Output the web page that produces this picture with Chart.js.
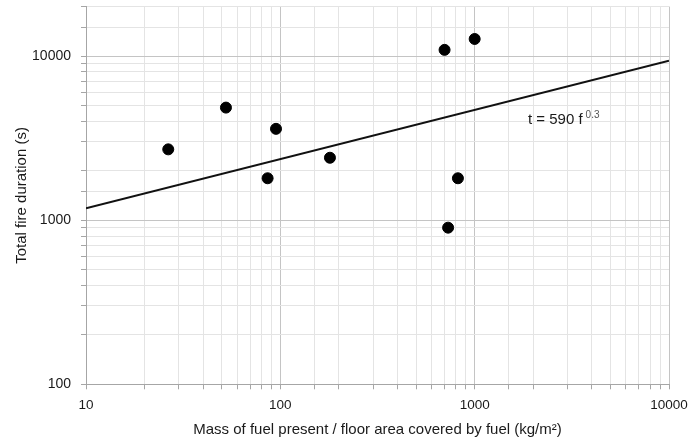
<!DOCTYPE html>
<html>
<head>
<meta charset="utf-8">
<script src="https://cdn.jsdelivr.net/npm/chart.js@4/dist/chart.umd.min.js"></script>
<style>
html,body{margin:0;padding:0;background:#fff;}
#wrap{width:688px;height:443px;}
</style>
</head>
<body>
<div id="wrap"><canvas id="c" width="688" height="443"></canvas></div>
<script>
// Data
const fuelLoad = [26.5, 52.5, 95, 86, 180, 700, 1000, 820, 730];          // kg/m2
const fireDuration = [2700, 4850, 3600, 1800, 2400, 10900, 12700, 1800, 900]; // s
const trendX = [10, 10000];
const trendY = [1180, 9350];
const xMajorTicks = [10, 100, 1000, 10000];
const yMajorTicks = [100, 1000, 10000];
const equationLabel = {x: 1880, y: 4080, main: 't = 590 f', sup: '0.3'};

const FONT = "'Liberation Sans', Arial, sans-serif";

const scatterPts = fuelLoad.map((v, i) => ({x: v, y: fireDuration[i]}));
const trendPts = trendX.map((v, i) => ({x: v, y: trendY[i]}));

const isDecade = v => {
  const l = Math.log10(v);
  return Math.abs(l - Math.round(l)) < 1e-9;
};

const labelPlugin = {
  id: 'eqLabel',
  afterDatasetsDraw(chart) {
    const ctx = chart.ctx;
    const px = chart.scales.x.getPixelForValue(equationLabel.x);
    const py = chart.scales.y.getPixelForValue(equationLabel.y);
    ctx.save();
    ctx.fillStyle = '#1a1a1a';
    ctx.textBaseline = 'middle';
    ctx.textAlign = 'left';
    ctx.font = '15px ' + FONT;
    ctx.fillText(equationLabel.main, px, py);
    const w = ctx.measureText(equationLabel.main).width;
    ctx.fillStyle = '#555';
    ctx.font = '10px ' + FONT;
    ctx.fillText(equationLabel.sup, px + w + 3, py - 5);
    ctx.restore();
  }
};

new Chart(document.getElementById('c'), {
  type: 'scatter',
  data: {
    datasets: [
      {
        type: 'line',
        data: trendPts,
        borderColor: '#111',
        borderWidth: 2,
        pointRadius: 0,
        fill: false,
        order: 2
      },
      {
        data: scatterPts,
        backgroundColor: '#000',
        borderColor: '#000',
        pointRadius: 5.5,
        pointHoverRadius: 5.5,
        order: 1
      }
    ]
  },
  options: {
    responsive: false,
    animation: false,
    devicePixelRatio: 1,
    layout: {padding: {left: 0, right: 19, top: 6.6, bottom: 0}},
    plugins: {legend: {display: false}, tooltip: {enabled: false}},
    scales: {
      x: {
        type: 'logarithmic',
        min: 10,
        max: 10000,
        afterFit(s) { s.height = 58.7; s.paddingLeft = 0; s.paddingRight = 0; },
        border: {color: '#a6a6a6', width: 1},
        grid: {
          color: c => (c.tick && isDecade(c.tick.value)) ? '#c4c4c4' : '#e4e4e4',
          tickColor: '#a6a6a6',
          tickLength: 5,
          lineWidth: 1
        },
        ticks: {
          autoSkip: false,
          maxRotation: 0,
          padding: 8,
          color: '#1a1a1a',
          font: {family: FONT, size: 13.5},
          callback: v => xMajorTicks.includes(v) ? String(v) : ''
        },
        title: {
          display: true,
          text: 'Mass of fuel present / floor area covered by fuel (kg/m²)',
          color: '#1a1a1a',
          font: {family: FONT, size: 15},
          padding: {top: 0, bottom: 4}
        }
      },
      y: {
        type: 'logarithmic',
        min: 100,
        max: 20000,
        afterFit(s) { s.width = 86; s.paddingTop = 0; s.paddingBottom = 0; },
        border: {color: '#a6a6a6', width: 1},
        grid: {
          color: c => (c.tick && isDecade(c.tick.value)) ? '#c4c4c4' : '#e4e4e4',
          tickColor: '#a6a6a6',
          tickLength: 5,
          lineWidth: 1
        },
        ticks: {
          autoSkip: false,
          padding: 10,
          color: '#1a1a1a',
          font: {family: FONT, size: 14},
          callback: v => yMajorTicks.includes(v) ? String(v) : ''
        },
        title: {
          display: true,
          text: 'Total fire duration (s)',
          color: '#1a1a1a',
          font: {family: FONT, size: 15},
          padding: {top: 13, bottom: 0}
        }
      }
    }
  },
  plugins: [labelPlugin]
});
</script>
</body>
</html>
